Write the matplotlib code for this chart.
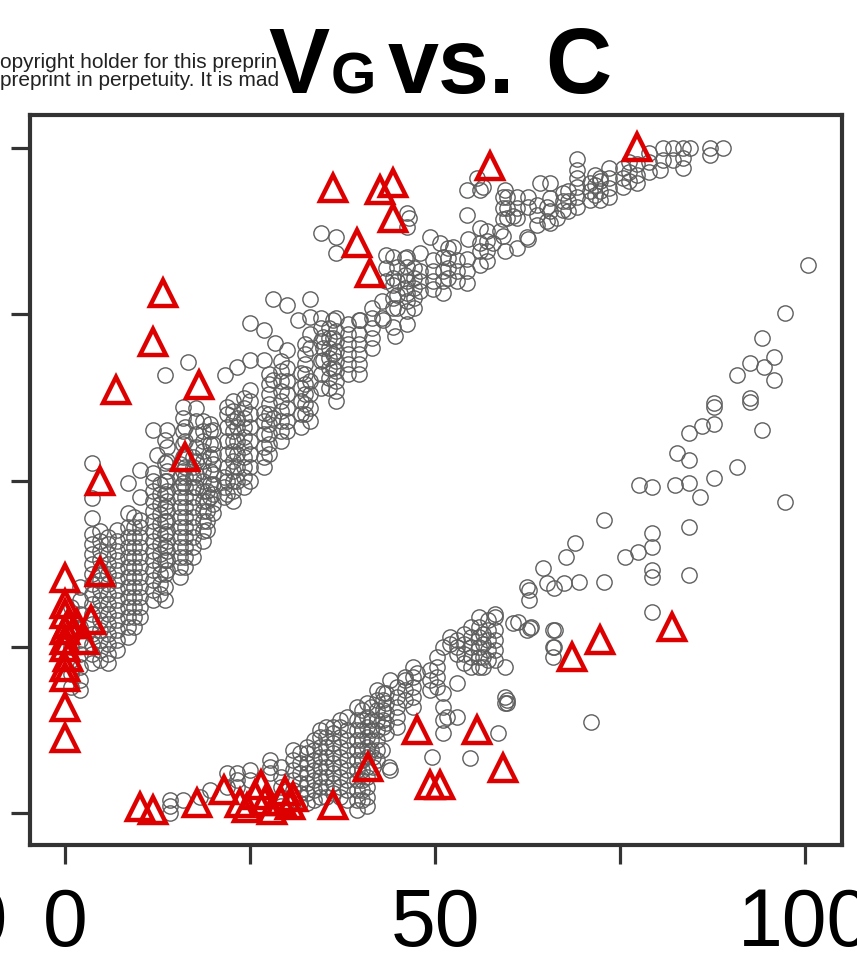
import numpy as np
import matplotlib.pyplot as plt

plt.rcParams['font.family'] = ['Liberation Sans', 'DejaVu Sans']

# grey circles, upper arm (one line per column of stacked points)
upper_x = (
    [0.7] * 7 + [2.0] * 9 + [3.6] * 17 + [5.7] * 14 + [7.0] * 13 + [8.5] * 14
    + [10.1] * 13 + [11.9] * 15 + [12.4] + [13.5] * 13 + [13.8] * 14
    + [15.5] * 12 + [15.9] * 7 + [16.6] + [17.3] * 11 + [17.6] * 7
    + [19.2] * 5 + [19.6] * 7 + [20.0] * 9 + [21.4] * 3 + [21.6] + [21.9] * 8
    + [23.2] * 7 + [25.0] * 10 + [26.8] * 8 + [28.1] * 3 + [28.4]
    + [30.0] * 8 + [31.4] + [31.8] * 5 + [33.1] * 8 + [34.6] * 7 + [34.9] * 3
    + [36.2] * 4 + [36.6] * 11 + [39.7] * 6 + [39.9] + [42.8] * 2 + [43.0]
    + [43.4] * 3 + [44.3] * 6 + [44.6] + [44.9] * 4 + [45.9] * 3 + [46.2] * 9
    + [46.5] + [48.0] * 4 + [49.3] + [49.7] * 4 + [50.7] + [51.1] * 4
    + [52.4] + [53.0] * 3 + [54.3] * 5 + [54.5] + [55.7] + [56.1] * 5
    + [56.5] + [57.8] + [58.8] + [59.2] * 4 + [59.5] * 2 + [59.7] * 3
    + [60.5] + [61.1] * 4 + [62.4] + [62.6] * 3 + [64.2] + [65.1] * 2
    + [65.5] * 4 + [66.5] + [67.3] * 3 + [69.2] * 6 + [70.9] * 3 + [72.3] * 4
    + [73.6] * 4 + [75.4] * 3 + [77.3] * 3 + [80.4] + [80.8] * 2 + [82.2] * 2
    + [83.5] * 3 + [84.5] + [87.2] * 2 + [88.9]
)
upper_y = (
    [19, 21, 23, 25, 27, 29, 31]
    + [18.5, 20, 22, 24, 26, 28, 30, 32, 34]
    + [22.6, 24, 25.5, 27, 28.5, 30, 31.5, 33, 34.5, 36, 37.5, 39, 40.5, 42, 44.4, 47.4, 52.6]
    + [22.6, 24, 25.5, 27, 28.5, 30, 31.5, 33, 34.5, 36, 37.5, 39, 40.5, 41.5]
    + [24.5, 26, 27.5, 29, 30.5, 32, 33.5, 35, 36.5, 38, 39.5, 41, 42.6]
    + [26.5, 28, 29.5, 31, 32.5, 34, 35.5, 37, 38.5, 40, 41.5, 43, 45.1, 49.6]
    + [29.5, 31, 32.5, 34, 35.5, 37, 38.5, 40, 41.5, 43, 44.1, 47.5, 51.6]
    + [32, 33.5, 35, 36.5, 38, 39.5, 41, 42.5, 44, 45.5, 47, 48.5, 50, 51.1, 57.6]
    + [53.8]
    + [32, 34, 36, 38, 40, 42, 44, 46, 48, 50, 52.6, 56.1, 65.9]
    + [36.5, 38, 39.5, 41, 42.5, 44, 45.5, 47, 48.5, 50, 51.5, 53, 55, 57.6]
    + [35.5, 37, 38.5, 40, 41.5, 43, 44.5, 46, 47.5, 49, 50.5, 52.5]
    + [49.6, 51.5, 53.5, 55.5, 57.5, 59.5, 61.1]
    + [67.8]
    + [38.5, 40, 41.5, 43, 44.5, 46, 47.5, 49, 50.5, 52, 53.5]
    + [49, 51, 53, 55, 57, 59, 61]
    + [42.6, 44, 45.5, 47, 48.5]
    + [47.5, 49.5, 51.5, 53.5, 55.5, 57.5, 58.6]
    + [45.1, 46.5, 48, 49.5, 51, 52.5, 54, 55.5, 57.6]
    + [47.5, 49, 50.5]
    + [65.9]
    + [48, 50, 52, 54, 56, 58, 60, 61.1]
    + [50, 52, 54, 56, 58, 59.5, 67.1]
    + [50, 52, 54, 56, 58, 60, 62, 63.6, 68.1, 73.7]
    + [52, 53.5, 55, 57, 59, 60.2, 68.1, 72.6]
    + [59.5, 65.1, 77.4]
    + [70.7]
    + [57.5, 59, 61, 63, 65, 67, 69.6, 76.4]
    + [74.1]
    + [58, 60, 62, 64, 66.2]
    + [59, 61, 63, 65, 70, 72, 74.6, 77.4]
    + [64, 66, 68, 71, 73, 74.5, 87.2]
    + [68.1, 70, 71.6]
    + [74.1, 71.5, 69, 67]
    + [62, 63.5, 65, 66.5, 68, 69.5, 71, 72.5, 74.4, 86.6, 84.2]
    + [66, 67.5, 69, 70.5, 72, 74.1]
    + [74.1]
    + [74.4, 77]
    + [74.1]
    + [80, 82, 84]
    + [73.1, 76, 77.5, 79.5, 80.5, 83.6]
    + [71.8]
    + [76, 78, 80.1, 82.1]
    + [79, 81, 83.5]
    + [73.5, 75.5, 77.1, 78.2, 80, 82.1, 83.6, 88.1, 90.2]
    + [89.5]
    + [78.6, 80, 81.5, 84.2]
    + [86.6]
    + [78.8, 80, 81.5, 83.2]
    + [85.7]
    + [78.2, 80, 81.6, 83.6]
    + [85.1]
    + [80, 81.6, 83.2]
    + [79.7, 81.5, 83.3, 89.9, 93.7]
    + [86.4]
    + [95.5]
    + [82.5, 84.5, 85.8, 88.0, 93.7]
    + [94.1]
    + [85.7]
    + [87.5]
    + [86.8, 89.3, 91, 92.6]
    + [84.5, 93.7]
    + [89.5, 91, 92.6]
    + [89.8]
    + [85, 89.5, 91, 92.6]
    + [86.6]
    + [86.4, 91.1, 92.6]
    + [94.7]
    + [89.0, 91.1]
    + [88.7, 90.5, 92.5, 94.7]
    + [89.5]
    + [90.7, 92.0, 93.2]
    + [91.1, 92.7, 94.1, 95.6, 96.8, 98.4]
    + [92.2, 93.5, 94.7]
    + [92.2, 93.5, 95, 95.6]
    + [92.6, 94, 95.6, 97.1]
    + [94.1, 95.5, 97.1]
    + [94.7, 96, 97.7]
    + [96.7]
    + [98.3, 100]
    + [98.3, 100]
    + [97.1, 98.5, 100]
    + [100]
    + [99, 100]
    + [100]
)

# more stacked circles in between the columns of the upper arm
upper_fill_x = (
    [4.7] * 14 + [9.3] * 12 + [12.8] * 12 + [16.2] * 14 + [18.6] * 13
    + [22.6] * 11 + [24.2] * 10 + [27.6] * 9 + [29.2] * 9 + [32.4] * 8
    + [35.7] * 7 + [38.2] * 6 + [41.5] * 5 + [47.2] * 5 + [51.8] * 4
    + [57.0] * 4 + [63.8] * 3 + [68.0] * 3 + [71.6] * 3 + [76.2] * 3
    + [79.0] * 3
)
upper_fill_y = (
    [23, 24.5, 26, 27.5, 29, 30.5, 32, 33.5, 35, 36.5, 38, 39.5, 41, 42.5]
    + [28, 29.5, 31, 32.5, 34, 35.5, 37, 38.5, 40, 41.5, 43, 44.5]
    + [33, 34.5, 36, 37.5, 39, 40.5, 42, 43.5, 45, 46.5, 48, 49.5]
    + [37, 38.5, 40, 41.5, 43, 44.5, 46, 47.5, 49, 50.5, 52, 54, 56, 58]
    + [41, 42.5, 44, 45.5, 47, 48.5, 50, 51.5, 53, 54.5, 56, 57.5, 59]
    + [47, 48.5, 50, 51.5, 53, 54.5, 56, 57.5, 59, 60.5, 62]
    + [49, 50.5, 52, 53.5, 55, 56.5, 58, 59.5, 61, 62.5]
    + [54, 55.5, 57, 58.5, 60, 61.5, 63, 64.5, 66]
    + [56, 57.5, 59, 60.5, 62, 63.5, 65, 66.5, 68]
    + [60, 61.5, 63, 64.5, 66, 67.5, 69, 70.5]
    + [64, 65.5, 67, 68.5, 70, 71.5, 73]
    + [66, 67.5, 69, 70.5, 72, 73.5]
    + [70, 71.5, 73, 74.5, 76]
    + [76, 77.5, 79, 80.5, 82]
    + [80.5, 82, 83.5, 85]
    + [83, 84.5, 86, 87.5]
    + [88.5, 90, 91.5]
    + [90.5, 92, 93.5]
    + [93, 94.5, 96]
    + [95, 96.5, 98]
    + [96.5, 98, 99.3]
)

# grey circles, lower arm
lower_x = (
    [14.2] * 3 + [15.9, 18.2, 19.6] + [21.9] * 2 + [23.2] * 3 + [25.0] * 2
    + [27.7] * 3 + [30.8] * 6 + [32.7] * 7 + [34.5] * 8 + [36.2] * 8
    + [38.1] * 9 + [39.5] * 11 + [40.8] * 11 + [41.4] * 5 + [41.6] * 2
    + [42.8] + [43.0] * 5 + [43.4] * 5 + [43.8] + [43.9] * 2 + [45.9] * 4
    + [47.6] + [49.3] * 3 + [49.6] + [51.1] * 5 + [51.6] + [52.0] * 2
    + [53.0] * 5 + [53.9] * 4 + [54.7] + [56.0] * 6 + [56.5] * 4 + [58.1] * 6
    + [58.5] + [59.5] * 3 + [59.7] * 2 + [60.5, 61.2] + [62.4] * 2
    + [62.7] * 2 + [62.8, 63.0, 64.6, 65.1] + [65.9] * 3 + [66.1] * 2
    + [66.2, 67.4, 67.7, 68.9, 69.5] + [72.8] * 2 + [75.7, 77.4]
    + [79.3] * 5 + [84.3] * 2 + [77.6, 79.3, 82.4, 84.3, 85.8, 87.7, 90.8]
    + [82.7] + [84.3] * 2 + [86.1] + [87.7] * 3 + [90.8]
    + [92.6] * 3 + [94.2] * 2 + [94.5] + [95.9] * 2 + [97.4] * 2 + [100.4]
    + [71.1]
)
lower_y = (
    [0, 1, 2] + [2.0, 2.4, 3.5] + [4, 6] + [3.9, 5, 6] + [5, 6.5]
    + [6, 7, 8] + [2, 3.5, 5, 6.5, 8, 9.5] + [1.5, 3, 4.5, 6, 7.5, 9, 10]
    + [2.4, 4, 5.5, 7, 8.5, 10, 11.5, 12.5]
    + [3, 4.5, 6, 7.5, 9, 10.5, 12, 13]
    + [2, 3.5, 5, 6.5, 8, 9.5, 11, 12.5, 14.4]
    + [0.5, 2, 3.5, 5, 6.5, 8, 9.5, 11, 12.5, 14, 15.9]
    + [1, 2.5, 4, 5.5, 7, 8.5, 10, 11.5, 13, 14.5, 16.5]
    + [9.5, 11, 12.5, 14, 15.9] + [6.9, 8.4]
    + [9.5] + [12.9, 14, 15.5, 17, 18] + [12, 13.5, 15, 16.5, 18]
    + [6.9] + [6.5, 20.0] + [17, 18.5, 20, 20.5]
    + [21.1] + [18.5, 20, 21.5] + [8.4] + [12.0, 14, 16, 18, 25] + [14.4]
    + [25.5, 26.5]
    + [14.4, 19.5, 24, 25, 26] + [22.6, 24, 25.5, 27] + [8.3]
    + [22, 23.5, 25, 26.5, 28, 29.5] + [22, 23.5, 25.5, 27]
    + [23, 24.5, 26, 27.5, 29.5, 30] + [12]
    + [16.5, 17.4, 22] + [16.5, 17] + [28.6, 28.7] + [27.5, 34]
    + [32.0, 33.5] + [27.8, 28, 36.8, 34.6] + [23.5, 25, 27.5] + [25, 33.8]
    + [27.5, 34.6, 38.5, 40.6, 34.7] + [34.7, 44.1] + [38.5, 39.2]
    + [30.2, 35.5, 36.5, 40, 42.1] + [35.8, 43]
    + [49.3, 49, 49.3, 49.6, 47.5, 50.4, 52]
    + [54.1] + [53.1, 57.1] + [58.3] + [58.6, 61.1, 61.7] + [65.9]
    + [61.8, 62.4, 67.7] + [57.6, 71.4] + [67.1] + [65.1, 68.6]
    + [46.8, 75.2] + [82.5]
    + [13.7]
)

# more stacked circles in between the columns of the lower arm
lower_fill_x = (
    [29.2] * 5 + [31.7] * 6 + [33.6] * 7 + [35.3] * 8 + [37.1] * 9
    + [40.1] * 10 + [42.2] * 8 + [44.8] * 5 + [47.0] * 5 + [50.3] * 4
    + [54.8] * 5 + [57.2] * 5
)
lower_fill_y = (
    [1, 2.5, 4, 5.5, 7]
    + [1.5, 3, 4.5, 6, 7.5, 9]
    + [2, 3.5, 5, 6.5, 8, 9.5, 11]
    + [2.5, 4, 5.5, 7, 8.5, 10, 11.5, 13]
    + [2.5, 4, 5.5, 7, 8.5, 10, 11.5, 13, 14]
    + [2, 3.5, 5, 6.5, 8, 9.5, 11, 12.5, 14, 15.5]
    + [8, 9.5, 11, 12.5, 14, 15.5, 17, 18.5]
    + [13, 14.5, 16, 17.5, 19]
    + [16, 17.5, 19, 20.5, 22]
    + [19, 20.5, 22, 23.5]
    + [22, 23.5, 25, 26.5, 28]
    + [23, 24.5, 26, 27.5, 29]
)

# red triangles
tri_x = [
    77.3, 57.4, 36.2, 42.6, 44.3, 44.3, 39.5, 41.2, 13.2, 11.8, 18.0, 6.8,
    16.2, 4.7, 0.0, 4.7,
    0.0, 0.0, 0.4, 0.0, 1.5, 0.0, 2.5, 0.0, 0.3, 0.0, 0.0, 0.0, 3.5, 0.0,
    10.1, 11.9, 17.8, 21.4, 23.6, 25.7, 27.0, 29.1, 30.4, 26.4, 29.7, 24.5,
    28.0, 30.8, 36.2, 40.9, 47.6, 55.7, 49.3, 50.7, 59.2, 68.5, 72.3, 82.0,
]
tri_y = [
    100.2, 97.4, 94.0, 93.7, 94.7, 89.5, 85.7, 81.2, 78.2, 70.8, 64.4, 63.6,
    53.5, 49.9, 35.3, 36.2,
    31.5, 30.0, 28.5, 27.5, 28.5, 26.0, 26.0, 25.0, 23.5, 22.0, 20.5, 15.9, 29.0, 11.3,
    0.9, 0.5, 1.5, 3.5, 1.5, 2.7, 1.8, 1.8, 1.2, 4.2, 3.4, 0.8,
    0.5, 2.5, 1.2, 6.9, 12.5, 12.5, 4.2, 4.2, 6.8, 23.5, 26.0, 28.0,
]

x_ticks = [0, 25, 50, 75, 100]
x_ticklabels = ['0', '', '50', '', '100']
y_ticks = [0, 25, 50, 75, 100]

fig = plt.figure(figsize=(8.57, 9.64), dpi=100)
ax = fig.add_axes([0.035, 0.1234, 0.947, 0.7573])

circle_style = dict(ls='none', marker='o', ms=11, mfc='none', mec='#5e5e5e', mew=1.0)
ax.plot(upper_x, upper_y, **circle_style)
ax.plot(upper_fill_x, upper_fill_y, **circle_style)
ax.plot(lower_x, lower_y, **circle_style)
ax.plot(lower_fill_x, lower_fill_y, **circle_style)
ax.plot(tri_x, tri_y, '^', ms=19, mfc='none', mec='#dd0000', mew=3.2)

ax.set_xlim(-4.8, 105)
ax.set_ylim(-4.8, 105)
ax.set_xticks(x_ticks)
ax.set_xticklabels(x_ticklabels)
ax.set_yticks(y_ticks)
ax.set_yticklabels([])
ax.tick_params(axis='both', length=14, width=2.3, color='#333333',
               direction='out', labelsize=58, pad=16)
for sp in ax.spines.values():
    sp.set_linewidth(3)
    sp.set_color('#333333')

# header text from the page behind the panel
fig.text(0.0, 1 - 68 / 964, 'opyright holder for this preprin', fontsize=15,
         color='#222222', ha='left', va='baseline')
fig.text(0.0, 1 - 86 / 964, 'preprint in perpetuity. It is mad', fontsize=15,
         color='#222222', ha='left', va='baseline')

# panel title
fig.text(268 / 857, 1 - 93 / 964, 'V', fontsize=66, fontweight='bold',
         ha='left', va='baseline')
fig.text(331 / 857, 1 - 93 / 964, 'G', fontsize=42, fontweight='bold',
         ha='left', va='baseline')
fig.text(388 / 857, 1 - 93 / 964, 'vs.', fontsize=66, fontweight='bold',
         ha='left', va='baseline')
fig.text(545 / 857, 1 - 93 / 964, 'C', fontsize=66, fontweight='bold',
         ha='left', va='baseline')

# edge of the neighbouring panel's tick label
fig.text(8 / 857, 1 - 945 / 964, '100', fontsize=58, ha='right', va='baseline')

fig.savefig('out.png', dpi=100)
